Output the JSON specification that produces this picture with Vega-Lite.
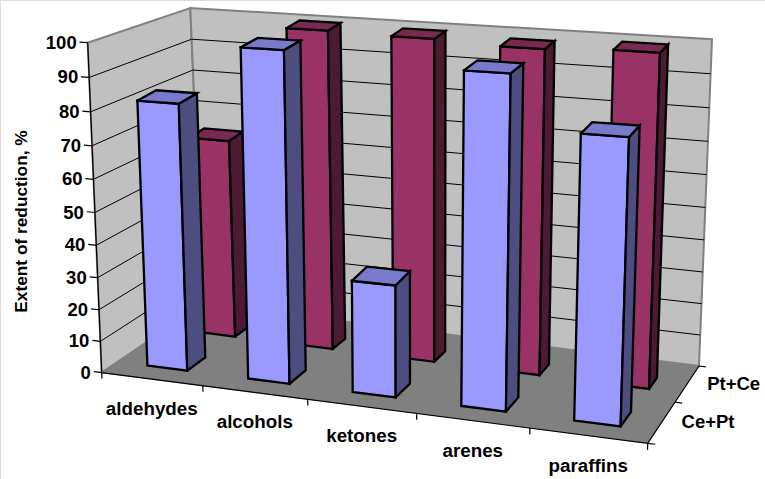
{
"$schema":"https://vega.github.io/schema/vega-lite/v6.json",
"width":765,"height":479,"padding":0,"autosize":"none","background":"white",
"data":{"values":[
{"kind":"frame","part":"leftwall"},{"kind":"frame","part":"backwall"},{"kind":"frame","part":"floor"},{"kind":"axis"},
{"kind":"grid","value":10},{"kind":"grid","value":20},{"kind":"grid","value":30},{"kind":"grid","value":40},{"kind":"grid","value":50},{"kind":"grid","value":60},{"kind":"grid","value":70},{"kind":"grid","value":80},{"kind":"grid","value":90},
{"kind":"ytick","value":0,"label":"0"},{"kind":"ytick","value":10,"label":"10"},{"kind":"ytick","value":20,"label":"20"},{"kind":"ytick","value":30,"label":"30"},{"kind":"ytick","value":40,"label":"40"},{"kind":"ytick","value":50,"label":"50"},{"kind":"ytick","value":60,"label":"60"},{"kind":"ytick","value":70,"label":"70"},{"kind":"ytick","value":80,"label":"80"},{"kind":"ytick","value":90,"label":"90"},{"kind":"ytick","value":100,"label":"100"},
{"kind":"xtick","tick":0},{"kind":"xtick","tick":1},{"kind":"xtick","tick":2},{"kind":"xtick","tick":3},{"kind":"xtick","tick":4},{"kind":"xtick","tick":5},
{"kind":"ztick","tick":0},{"kind":"ztick","tick":1},{"kind":"ztick","tick":2},
{"kind":"bar","category":"aldehydes","series":"Pt+Ce","value":64},
{"kind":"bar","category":"alcohols","series":"Pt+Ce","value":100},
{"kind":"bar","category":"ketones","series":"Pt+Ce","value":99.5},
{"kind":"bar","category":"arenes","series":"Pt+Ce","value":98.5},
{"kind":"bar","category":"paraffins","series":"Pt+Ce","value":99.5},
{"kind":"bar","category":"aldehydes","series":"Ce+Pt","value":82},
{"kind":"bar","category":"alcohols","series":"Ce+Pt","value":99.5},
{"kind":"bar","category":"ketones","series":"Ce+Pt","value":34},
{"kind":"bar","category":"arenes","series":"Ce+Pt","value":97},
{"kind":"bar","category":"paraffins","series":"Ce+Pt","value":82},
{"kind":"catlabel","category":"aldehydes"},{"kind":"catlabel","category":"alcohols"},{"kind":"catlabel","category":"ketones"},{"kind":"catlabel","category":"arenes"},{"kind":"catlabel","category":"paraffins"},
{"kind":"serlabel","series":"Ce+Pt"},{"kind":"serlabel","series":"Pt+Ce"}
]},
"transform":[
{"calculate":"(indexof(['aldehydes','alcohols','ketones','arenes','paraffins'],datum.category)+0.5)/5","as":"uc0"},
{"calculate":"datum.uc0+(datum.series==='Pt+Ce'?0.003:0)","as":"uc"},
{"calculate":"(datum.uc-0.04)/((datum.uc-0.04)+(1-(datum.uc-0.04))*1.1)","as":"u0"},
{"calculate":"(datum.uc+0.04)/((datum.uc+0.04)+(1-(datum.uc+0.04))*1.1)","as":"u1"},
{"calculate":"datum.uc/(datum.uc+(1-datum.uc)*1.1)","as":"um"},
{"calculate":"datum.series==='Pt+Ce'?0.65:0.16","as":"v0"},
{"calculate":"datum.series==='Pt+Ce'?0.795:0.35","as":"v1"},
{"calculate":"(datum.value/100)/((datum.value/100)+(1-datum.value/100)*1.06)","as":"t"},
{"calculate":"datum.t+0.008","as":"tb"},
{"calculate":"(datum.tick/5)/((datum.tick/5)+(1-datum.tick/5)*1.1)","as":"uk"},
{"calculate":"[0,0.532,1][datum.tick]","as":"vk"},
{"calculate":"datum.kind==='bar'?[['front',0,datum.u0,datum.v0,0],['front',1,datum.u0,datum.v0,datum.t],['front',2,datum.u1,datum.v0,datum.t],['front',3,datum.u1,datum.v0,0],['front',4,datum.u0,datum.v0,0],['side',0,datum.u1,datum.v0,0],['side',1,datum.u1,datum.v0,datum.t],['side',2,datum.u1,datum.v1,datum.tb],['side',3,datum.u1,datum.v1,0],['side',4,datum.u1,datum.v0,0],['top',0,datum.u0,datum.v0,datum.t],['top',1,datum.u0,datum.v1,datum.tb],['top',2,datum.u1,datum.v1,datum.tb],['top',3,datum.u1,datum.v0,datum.t],['top',4,datum.u0,datum.v0,datum.t]]:datum.part==='leftwall'?[['p',0,0,0,0],['p',1,0,0,1],['p',2,0,1,1],['p',3,0,1,0],['p',4,0,0,0]]:datum.part==='backwall'?[['p',0,0,1,0],['p',1,0,1,1],['p',2,1,1,1],['p',3,1,1,0],['p',4,0,1,0]]:datum.part==='floor'?[['p',0,0,0,0],['p',1,1,0,0],['p',2,1,1,0],['p',3,0,1,0],['p',4,0,0,0]]:datum.kind==='axis'?[['p',0,0,0,1],['p',1,0,0,0],['p',2,1,0,0],['p',3,1,1,0]]:datum.kind==='grid'?[['p',0,0,0,datum.t],['p',1,0,1,datum.t],['p',2,1,1,datum.t]]:datum.kind==='ytick'?[['p',0,-0.0145,0,datum.t],['p',1,0,0,datum.t]]:datum.kind==='xtick'?[['p',0,datum.uk,0,0],['p',1,datum.uk,0,-0.018]]:datum.kind==='ztick'?[['p',0,1,datum.vk,0],['p',1,1.0137,datum.vk,0]]:datum.kind==='catlabel'?[['p',0,datum.um,0,0]]:[['p',0,1,datum.series==='Pt+Ce'?0.77:0.27,0]]","as":"verts"},
{"flatten":["verts"],"as":["w"]},
{"calculate":"datum.w[0]","as":"face"},
{"calculate":"datum.w[1]","as":"vertex"},
{"calculate":"datum.w[2]","as":"fu"},
{"calculate":"datum.w[3]","as":"fv"},
{"calculate":"datum.w[4]","as":"fh"},
{"calculate":"((1-datum.fu)*(1-datum.fv)*101.7+datum.fu*(1-datum.fv)*647.7+datum.fu*datum.fv*699+(1-datum.fu)*datum.fv*203)*(1-datum.fh)+((1-datum.fu)*(1-datum.fv)*87.7+datum.fu*(1-datum.fv)*659.6+datum.fu*datum.fv*712+(1-datum.fu)*datum.fv*190.3)*datum.fh","as":"px"},
{"calculate":"((1-datum.fu)*(1-datum.fv)*372.7+datum.fu*(1-datum.fv)*443.3+datum.fu*datum.fv*366+(1-datum.fu)*datum.fv*304)*(1-datum.fh)+((1-datum.fu)*(1-datum.fv)*42.7+datum.fu*(1-datum.fv)*78.3+datum.fu*datum.fv*39.3+(1-datum.fu)*datum.fv*8)*datum.fh","as":"py"},
{"calculate":"datum.kind+'|'+datum.part+'|'+datum.category+'|'+datum.series+'|'+datum.value+'|'+datum.tick+'|'+datum.face","as":"poly"},
{"calculate":"datum.series+' '+datum.face","as":"facekey"}
],
"encoding":{
"x":{"field":"px","type":"quantitative","scale":{"domain":[0,765],"nice":false,"zero":false},"axis":null},
"y":{"field":"py","type":"quantitative","scale":{"domain":[479,0],"nice":false,"zero":false},
"axis":{"title":"Extent of reduction, %","domain":false,"ticks":false,"labels":false,"grid":false,"titleX":21,"titleY":221,"titleFont":"Liberation Sans","titleFontWeight":"bold","titleFontSize":17.3,"titleColor":"#000000","titleAngle":-90,"titleAlign":"center","titleBaseline":"middle"}},
"detail":{"field":"poly"},
"order":{"field":"vertex","type":"quantitative"}
},
"layer":[
{"transform":[{"filter":"datum.part==='leftwall'||datum.part==='backwall'"}],"mark":{"type":"line","fill":"#C0C0C0","stroke":"#808080","strokeWidth":2}},
{"transform":[{"filter":"datum.kind==='grid'"}],"mark":{"type":"line","stroke":"#000000","strokeWidth":1}},
{"transform":[{"filter":"datum.part==='floor'"}],"mark":{"type":"line","fill":"#808080","stroke":"#808080","strokeWidth":0.5}},
{"transform":[{"filter":"datum.kind==='axis'||datum.kind==='ytick'||datum.kind==='xtick'||datum.kind==='ztick'"}],"mark":{"type":"line","stroke":"#000000","strokeWidth":1.2}},
{"transform":[{"filter":"datum.kind==='bar'"}],"mark":{"type":"line","stroke":"#000000","strokeWidth":2.3,"strokeCap":"square"},
"encoding":{"fill":{"field":"facekey","type":"nominal","legend":null,"scale":{"domain":["Ce+Pt front","Ce+Pt side","Ce+Pt top","Pt+Ce front","Pt+Ce side","Pt+Ce top"],"range":["#9999FF","#4D4D80","#7A7ACC","#993366","#4D1A33","#7A2952"]}}}},
{"transform":[{"filter":"datum.kind==='ytick'&&datum.vertex===1"}],"mark":{"type":"text","align":"right","baseline":"middle","dx":-11,"font":"Liberation Sans","fontWeight":"bold","fontSize":18.5,"color":"#000000"},"encoding":{"text":{"field":"label"}}},
{"transform":[{"filter":"datum.kind==='catlabel'"}],"mark":{"type":"text","align":"center","baseline":"middle","dy":30,"font":"Liberation Sans","fontWeight":"bold","fontSize":18.8,"color":"#000000"},"encoding":{"text":{"field":"category"}}},
{"transform":[{"filter":"datum.kind==='serlabel'"}],"mark":{"type":"text","align":"left","baseline":"middle","dx":20,"font":"Liberation Sans","fontWeight":"bold","fontSize":18.5,"color":"#000000"},"encoding":{"text":{"field":"series"}}}
]
}
